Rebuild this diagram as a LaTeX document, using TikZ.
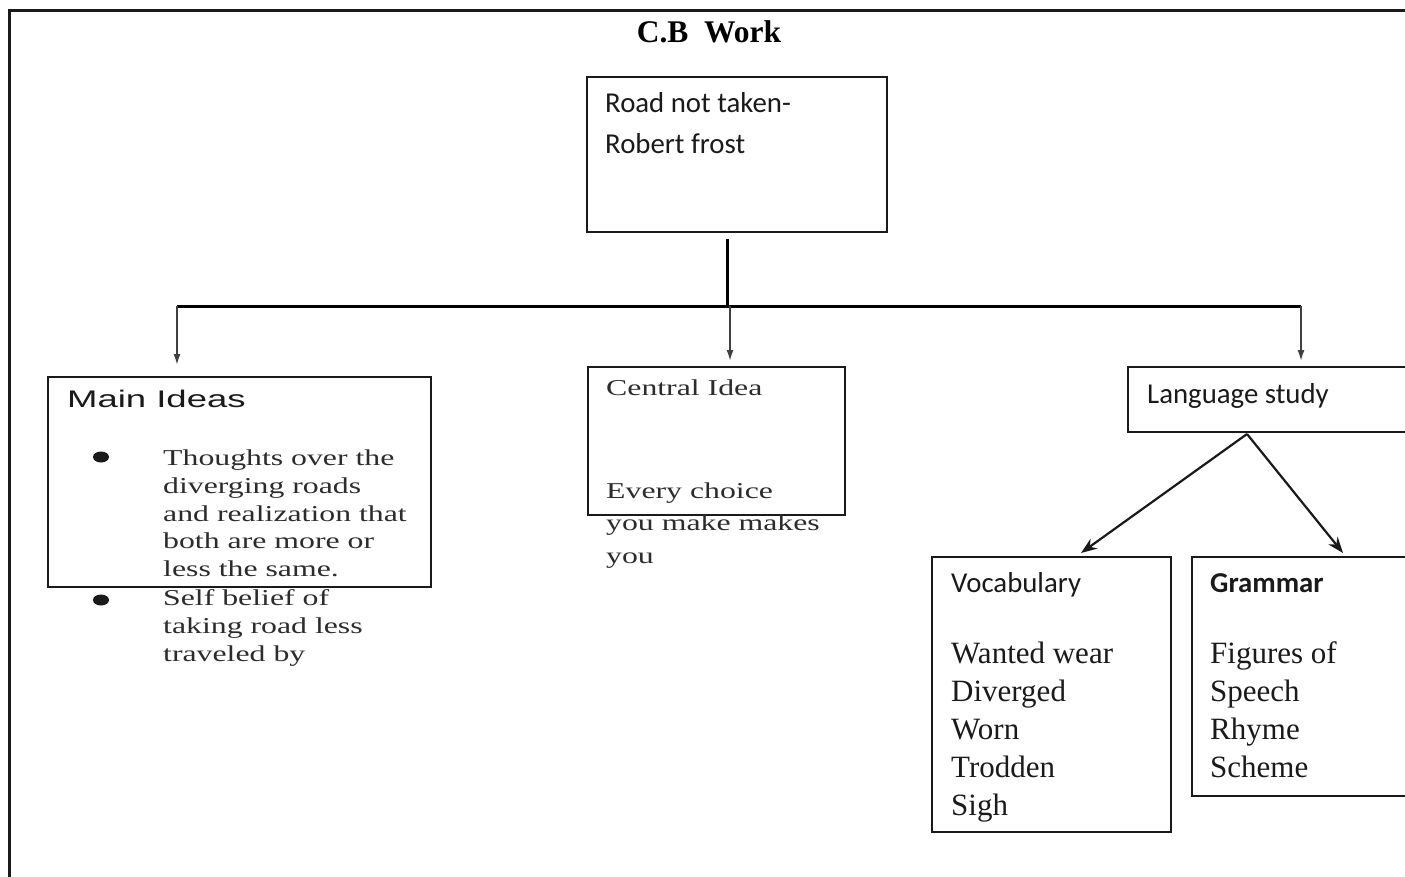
\documentclass[tikz,border=0pt]{standalone}
\usepackage{fontspec}
\setmainfont{Liberation Serif}
\newfontfamily\calfont{Carlito}
\newfontfamily\wideserif[FakeStretch=1.4]{Liberation Serif}
\newfontfamily\widesans[FakeStretch=1.52]{Liberation Sans}
\usetikzlibrary{arrows.meta}
\definecolor{ink}{HTML}{1A1A1A}
\definecolor{leader}{HTML}{404040}

\begin{document}
\begin{tikzpicture}[x=1pt,y=-1pt,
  box/.style={draw=ink, line width=2pt, anchor=north west, inner sep=0pt},
  txt/.style={anchor=base west, inner sep=0pt, text=ink},
  cal/.style={txt, font=\calfont\fontsize{28.8}{34}\selectfont},
  calbold/.style={txt, font=\calfont\bfseries\fontsize{28.8}{34}\selectfont},
  serif/.style={txt, font=\fontsize{31}{38}\selectfont},
  wserif/.style={txt, text=ink!92, font=\wideserif\fontsize{22.7}{28}\selectfont},
  wsans/.style={txt, font=\widesans\fontsize{24}{28}\selectfont},
  trunk/.style={line width=3pt, draw=black},
  drop/.style={line width=2.5pt, draw=leader, -{Latex[length=12pt,width=7pt]}},
  branch/.style={line width=2.2pt, draw=ink, -{Stealth[length=16pt,width=12pt]}},
  dot/.style={fill=ink}
]
\useasboundingbox (0,0) rectangle (1405,876);
\clip (0,0) rectangle (1405,876);

% page frame
\draw[line width=3pt, draw=ink] (9.7,890) -- (9.7,10.5) -- (1420,10.5);

% title
\node[anchor=base, inner sep=0pt, text=black,
      font=\bfseries\fontsize{31.5}{36}\selectfont] (title) at (709,42) {C.B\ \ Work};

% boxes
\node[box, minimum width=300, minimum height=155] (root) at (586,76) {};
\node[box, minimum width=383, minimum height=210] (main) at (47,376) {};
\node[box, minimum width=257, minimum height=148] (central) at (587,366) {};
\node[box, minimum width=293, minimum height=65] (lang) at (1127,366) {};
\node[box, minimum width=239, minimum height=275] (vocab) at (931,556) {};
\node[box, minimum width=229, minimum height=239] (gram) at (1191,556) {};

% root text
\node[cal] (root-1) at (605,112) {Road not taken-};
\node[cal] (root-2) at (605,153) {Robert frost};

% main ideas
\node[wsans] (main-h) at (67,407) {Main Ideas};
\fill[dot] (101,457) ellipse [x radius=8, y radius=5.5];
\fill[dot] (101,600) ellipse [x radius=8, y radius=5.5];
\foreach \w/\yy [count=\i] in {Thoughts over the/465, diverging roads/493,
    and realization that/521, both are more or/548, less the same./576,
    Self belief of/605, taking road less/633, traveled by/661}
  \node[wserif] (main-\i) at (163,\yy) {\w};

% central idea
\node[wserif] (central-h) at (606,395) {Central Idea};
\foreach \w/\yy [count=\i] in {Every choice/498, you make makes/530, you/563}
  \node[wserif] (central-\i) at (606,\yy) {\w};

% language study
\node[cal] (lang-t) at (1147,403) {Language study};
\node[cal] (vocab-h) at (951,592) {Vocabulary};
\node[calbold] (gram-h) at (1210,592) {Grammar};
\foreach \w [count=\i] in {Wanted wear, Diverged, Worn, Trodden, Sigh}
  \node[serif] (vocab-\i) at (951,{625+38*\i}) {\w};
\foreach \w [count=\i] in {Figures of, Speech, Rhyme, Scheme}
  \node[serif] (gram-\i) at (1210,{625+38*\i}) {\w};

% connectors
\coordinate (hub) at (727,306);
\coordinate (busL) at (177,306);
\coordinate (busM) at (730,306);
\coordinate (busR) at (1301,306);
\coordinate (fork) at (1247,434);
\draw[trunk] ([yshift=-6pt]root.south -| hub) -- (hub);
\draw[trunk] (busL) -- (busR);
\draw[drop] (busL) -- ([yshift=10pt]busL |- main.north);
\draw[drop] (busM) -- ([yshift=4pt]busM |- central.north);
\draw[drop] (busR) -- ([yshift=4pt]busR |- lang.north);
\draw[branch] (fork) -- ([xshift=29.5pt,yshift=3pt]vocab.north);
\draw[branch] (fork) -- ([xshift=36.5pt,yshift=3pt]gram.north);
\end{tikzpicture}
\end{document}
